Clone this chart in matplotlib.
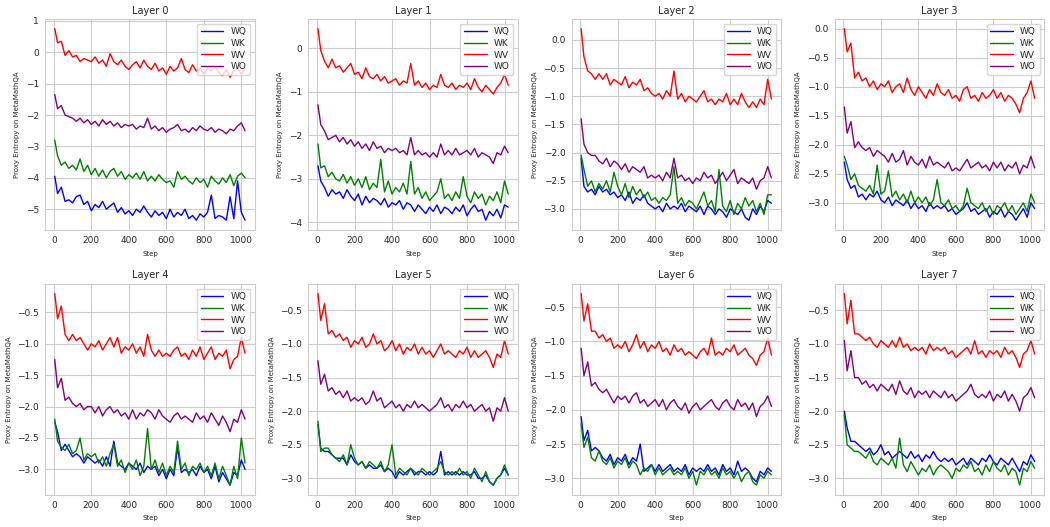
import matplotlib
matplotlib.use("Agg")
import matplotlib.pyplot as plt
import seaborn as sns

# step 5, then every 20 steps up to 1020
STEPS = [5] + list(range(20, 1021, 20))
SERIES_NAMES = ["WQ", "WK", "WV", "WO"]
COLORS = ["blue", "green", "red", "purple"]

# Layer 0
L0_WV = [0.75, 0.3, 0.35, -0.1, 0.05, -0.15,
         -0.1, -0.3, -0.2, -0.25, -0.3,
         -0.15, -0.35, -0.25, -0.45, -0.05,
         -0.3, -0.4, -0.25, -0.45, -0.55,
         -0.4, -0.3, -0.5, -0.25, -0.45,
         -0.55, -0.35, -0.6, -0.5, -0.7,
         -0.45, -0.6, -0.5, -0.2, -0.55,
         -0.65, -0.4, -0.6, -0.5, -0.7,
         -0.5, -0.6, -0.45, -0.65, -0.75,
         -0.55, -0.8, -0.6, -0.5, -0.7,
         -0.5]
L0_WO = [-1.35, -1.8, -1.7, -2.0, -2.05, -2.1,
         -2.2, -2.1, -2.25, -2.15, -2.3,
         -2.2, -2.35, -2.15, -2.3, -2.2,
         -2.35, -2.25, -2.4, -2.3, -2.35,
         -2.3, -2.45, -2.35, -2.4, -2.1,
         -2.45, -2.35, -2.5, -2.4, -2.55,
         -2.45, -2.4, -2.3, -2.5, -2.45,
         -2.55, -2.4, -2.5, -2.35, -2.45,
         -2.5, -2.4, -2.55, -2.45, -2.5,
         -2.6, -2.45, -2.5, -2.35, -2.25,
         -2.5]
L0_WK = [-2.8, -3.3, -3.6, -3.5, -3.7, -3.6,
         -3.75, -3.4, -3.8, -3.6, -3.9,
         -3.7, -3.95, -3.75, -4.0, -3.8,
         -3.7, -3.95, -3.8, -4.05, -3.9,
         -4.0, -3.85, -4.05, -3.8, -4.1,
         -3.95, -4.1, -3.9, -4.05, -4.15,
         -4.1, -4.3, -3.8, -4.05, -3.95,
         -4.1, -4.2, -4.0, -4.15, -4.05,
         -4.3, -3.95, -4.1, -4.2, -4.0,
         -4.15, -3.9, -4.25, -3.95, -3.85,
         -4.0]
L0_WQ = [-3.95, -4.5, -4.3, -4.75, -4.7, -4.8,
         -4.6, -4.55, -4.85, -4.75, -5.05,
         -4.85, -4.95, -4.75, -5.0, -4.9,
         -4.8, -5.1, -4.95, -5.15, -5.05,
         -5.2, -5.0, -5.1, -4.9, -5.1,
         -5.25, -5.05, -5.2, -5.1, -5.3,
         -5.0, -5.25, -5.1, -5.2, -5.0,
         -5.3, -5.2, -5.35, -5.15, -5.25,
         -5.1, -4.55, -5.3, -5.2, -5.25,
         -5.35, -4.6, -5.3, -4.1, -5.1,
         -5.35]

# Layer 1
L1_WV = [0.45, -0.05, -0.3, -0.45, -0.25, -0.45,
         -0.4, -0.55, -0.45, -0.35, -0.6,
         -0.55, -0.7, -0.45, -0.65, -0.7,
         -0.6, -0.75, -0.65, -0.8, -0.75,
         -0.7, -0.85, -0.75, -0.8, -0.35,
         -0.85, -0.75, -0.9, -0.8, -0.95,
         -0.85, -0.9, -0.6, -0.85, -0.9,
         -0.8, -0.95, -0.85, -0.9, -0.8,
         -0.95, -0.7, -0.9, -1.0, -0.85,
         -0.95, -1.05, -0.9, -0.8, -0.6,
         -0.85]
L1_WO = [-1.3, -1.75, -1.9, -2.1, -2.05, -2.0,
         -2.15, -2.05, -2.2, -2.1, -2.25,
         -2.15, -2.3, -2.2, -2.35, -2.15,
         -2.3, -2.25, -2.4, -2.3, -2.35,
         -2.3, -2.4, -2.35, -2.45, -2.05,
         -2.45, -2.35, -2.45, -2.4, -2.5,
         -2.4, -2.5, -2.2, -2.45, -2.35,
         -2.45, -2.3, -2.45, -2.4, -2.35,
         -2.45, -2.3, -2.5, -2.4, -2.45,
         -2.5, -2.65, -2.4, -2.45, -2.25,
         -2.4]
L1_WK = [-2.2, -2.75, -2.7, -2.95, -2.85, -3.0,
         -3.05, -2.9, -3.1, -2.95, -3.15,
         -3.0, -3.2, -2.95, -3.25, -3.1,
         -3.2, -2.55, -3.3, -3.05, -3.35,
         -3.2, -3.3, -3.1, -3.35, -2.6,
         -3.35, -3.2, -3.45, -3.3, -3.5,
         -3.4, -3.3, -3.0, -3.45, -3.35,
         -3.5, -3.3, -3.45, -2.95, -3.4,
         -3.55, -3.3, -3.45, -3.35, -3.6,
         -3.4, -3.5, -3.3, -3.55, -3.05,
         -3.35]
L1_WQ = [-2.7, -3.05, -3.2, -3.4, -3.25, -3.35,
         -3.3, -3.45, -3.25, -3.4, -3.5,
         -3.35, -3.6, -3.4, -3.55, -3.45,
         -3.5, -3.6, -3.45, -3.65, -3.55,
         -3.6, -3.5, -3.7, -3.55, -3.6,
         -3.75, -3.6, -3.7, -3.8, -3.65,
         -3.75, -3.6, -3.8, -3.65, -3.7,
         -3.8, -3.65, -3.75, -3.6, -3.85,
         -3.7, -3.6, -3.75, -3.7, -3.95,
         -3.75, -3.85, -3.7, -3.9, -3.6,
         -3.65]

# Layer 2
L2_WV = [0.2, -0.3, -0.55, -0.6, -0.7, -0.6,
         -0.7, -0.6, -0.8, -0.7, -0.75,
         -0.8, -0.65, -0.85, -0.75, -0.8,
         -0.7, -0.9, -0.85, -0.95, -1.0,
         -0.95, -1.05, -0.9, -1.0, -0.55,
         -1.05, -0.95, -1.1, -1.0, -1.05,
         -1.1, -1.0, -0.9, -1.1, -1.05,
         -1.15, -1.05, -1.1, -0.95, -1.15,
         -1.05, -1.15, -0.95, -1.1, -1.2,
         -1.1, -1.2, -1.05, -1.15, -0.7,
         -1.05]
L2_WO = [-1.4, -1.85, -2.0, -2.05, -2.05, -2.15,
         -2.2, -2.1, -2.25, -2.15, -2.2,
         -2.3, -2.2, -2.35, -2.25, -2.3,
         -2.35, -2.25, -2.45, -2.4, -2.45,
         -2.4, -2.5, -2.35, -2.45, -2.1,
         -2.45, -2.4, -2.5, -2.45, -2.55,
         -2.45, -2.5, -2.35, -2.45, -2.4,
         -2.55, -2.45, -2.35, -2.5, -2.4,
         -2.3, -2.55, -2.45, -2.5, -2.55,
         -2.45, -2.65, -2.5, -2.45, -2.25,
         -2.45]
L2_WK = [-2.05, -2.3, -2.6, -2.5, -2.7, -2.55,
         -2.65, -2.5, -2.7, -2.35, -2.6,
         -2.75, -2.55, -2.8, -2.6, -2.75,
         -2.65, -2.8, -2.7, -2.85, -2.8,
         -2.9, -2.8, -2.85, -2.75, -2.25,
         -2.9, -2.8, -2.95, -2.85, -2.9,
         -3.0, -2.85, -2.7, -2.95, -2.85,
         -3.05, -2.3, -2.95, -3.05, -2.85,
         -3.1, -2.9, -3.0, -2.8, -2.95,
         -2.85, -3.05, -2.9, -3.1, -2.75,
         -2.75]
L2_WQ = [-2.1, -2.6, -2.7, -2.65, -2.75, -2.6,
         -2.7, -2.65, -2.75, -2.7, -2.8,
         -2.75, -2.85, -2.7, -2.9, -2.8,
         -2.85, -2.75, -2.9, -2.95, -3.0,
         -2.95, -3.05, -2.9, -3.0, -2.95,
         -3.0, -2.9, -3.05, -2.95, -3.0,
         -3.05, -2.95, -3.1, -2.95, -3.0,
         -3.1, -3.0, -3.05, -3.15, -3.0,
         -3.05, -3.1, -3.0, -3.15, -3.2,
         -3.0, -3.1, -2.95, -3.05, -2.85,
         -2.9]

# Layer 3
L3_WV = [0.0, -0.4, -0.25, -0.85, -0.75, -0.9,
         -0.85, -1.0, -0.9, -1.05, -0.95,
         -1.0, -0.9, -1.1, -1.0, -0.95,
         -1.1, -0.85, -1.05, -1.15, -1.0,
         -1.1, -1.2, -1.05, -1.15, -0.95,
         -1.1, -1.15, -1.05, -1.2, -1.15,
         -1.25, -1.05, -1.0, -1.2, -1.15,
         -1.25, -1.1, -1.2, -1.15, -1.05,
         -1.2, -1.1, -1.25, -1.15, -1.2,
         -1.3, -1.45, -1.2, -1.1, -0.9,
         -1.2]
L3_WO = [-1.35, -1.8, -1.6, -2.05, -1.95, -2.05,
         -2.1, -2.05, -2.2, -2.1, -2.15,
         -2.2, -2.3, -2.15, -2.3, -2.25,
         -2.1, -2.35, -2.2, -2.3, -2.35,
         -2.25, -2.4, -2.2, -2.35, -2.3,
         -2.35, -2.4, -2.3, -2.45, -2.4,
         -2.45, -2.35, -2.25, -2.4, -2.35,
         -2.3, -2.4, -2.35, -2.45, -2.3,
         -2.4, -2.3, -2.45, -2.35, -2.4,
         -2.3, -2.5, -2.35, -2.4, -2.2,
         -2.4]
L3_WK = [-2.2, -2.35, -2.6, -2.5, -2.7, -2.75,
         -2.8, -2.7, -2.85, -2.35, -2.85,
         -2.8, -2.45, -2.9, -2.8, -2.95,
         -2.85, -3.0, -2.8, -3.0, -2.9,
         -3.0, -2.9, -3.05, -2.95, -2.6,
         -3.0, -3.05, -2.95, -3.1, -3.05,
         -3.15, -3.05, -2.75, -3.0, -3.05,
         -3.1, -3.0, -3.15, -3.05, -3.2,
         -3.05, -3.1, -3.0, -3.15, -3.05,
         -3.2, -3.1, -3.0, -3.15, -2.85,
         -3.0]
L3_WQ = [-2.3, -2.6, -2.75, -2.7, -2.9, -2.85,
         -2.95, -2.85, -2.9, -2.8, -2.95,
         -3.0, -2.9, -3.05, -2.95, -3.0,
         -3.05, -2.95, -3.1, -3.0, -3.1,
         -3.05, -3.15, -3.0, -3.1, -3.05,
         -3.1, -3.05, -3.15, -3.1, -3.2,
         -3.15, -3.1, -3.0, -3.15, -3.1,
         -3.2, -3.15, -3.1, -3.25, -3.15,
         -3.2, -3.1, -3.25, -3.15, -3.2,
         -3.3, -3.2, -3.1, -3.25, -3.0,
         -3.1]

# Layer 4
L4_WV = [-0.2, -0.6, -0.4, -0.85, -0.95, -0.85,
         -0.95, -0.9, -1.0, -1.1, -1.0,
         -1.05, -0.95, -1.1, -1.0, -0.9,
         -1.05, -0.9, -1.15, -1.05, -1.1,
         -1.0, -1.15, -1.05, -1.2, -0.85,
         -1.1, -1.2, -1.1, -1.2, -1.15,
         -1.2, -1.1, -1.05, -1.2, -1.15,
         -1.25, -1.1, -1.2, -1.05, -1.25,
         -1.15, -1.05, -1.25, -1.15, -1.2,
         -1.1, -1.4, -1.25, -1.2, -0.9,
         -1.15]
L4_WO = [-1.25, -1.7, -1.55, -1.9, -1.85, -1.95,
         -2.0, -1.95, -2.05, -2.0, -2.0,
         -2.1, -2.0, -2.15, -2.05, -2.0,
         -2.1, -2.05, -2.15, -2.1, -2.2,
         -2.05, -2.2, -2.1, -2.15, -2.05,
         -2.1, -2.2, -2.05, -2.15, -2.2,
         -2.25, -2.15, -2.1, -2.2, -2.15,
         -2.2, -2.25, -2.1, -2.2, -2.15,
         -2.25, -2.1, -2.2, -2.3, -2.15,
         -2.25, -2.4, -2.2, -2.25, -2.05,
         -2.2]
L4_WK = [-2.2, -2.55, -2.65, -2.7, -2.6, -2.75,
         -2.7, -2.5, -2.85, -2.75, -2.8,
         -2.75, -2.9, -2.8, -2.95, -2.75,
         -2.6, -2.95, -2.85, -3.05, -2.9,
         -3.0, -2.85, -3.1, -2.95, -2.35,
         -3.0, -2.85, -3.05, -2.9, -3.1,
         -2.95, -3.05, -2.55, -3.0, -2.9,
         -3.1, -2.95, -3.0, -2.9, -3.05,
         -2.95, -3.1, -2.9, -3.15, -2.95,
         -3.1, -3.25, -2.95, -3.15, -2.5,
         -2.9]
L4_WQ = [-2.25, -2.4, -2.7, -2.6, -2.7, -2.8,
         -2.75, -2.8, -2.9, -2.8, -2.85,
         -2.9, -2.85, -2.95, -2.8, -2.95,
         -2.55, -2.9, -2.95, -3.0, -2.9,
         -2.95, -3.0, -2.9, -3.05, -2.95,
         -3.0, -2.95, -3.1, -3.0, -3.15,
         -3.0, -3.1, -2.65, -3.05, -3.0,
         -3.05, -3.0, -3.1, -2.95, -3.05,
         -3.0, -3.15, -2.95, -3.2, -3.05,
         -3.15, -3.25, -3.05, -3.1, -2.85,
         -3.0]

# Layer 5
L5_WV = [-0.25, -0.65, -0.4, -0.85, -0.8, -0.9,
         -0.85, -0.95, -0.9, -1.05, -0.95,
         -1.0, -0.9, -1.05, -1.0, -0.85,
         -1.0, -0.95, -1.1, -1.05, -0.95,
         -1.1, -1.0, -1.15, -1.05, -1.1,
         -1.0, -1.15, -1.05, -1.15, -1.1,
         -1.2, -1.1, -1.0, -1.15, -1.1,
         -1.15, -1.2, -1.1, -1.15, -1.05,
         -1.2, -1.1, -1.2, -1.15, -1.1,
         -1.2, -1.35, -1.15, -1.2, -0.95,
         -1.15]
L5_WO = [-1.25, -1.6, -1.45, -1.7, -1.65, -1.75,
         -1.7, -1.8, -1.7, -1.85, -1.8,
         -1.85, -1.8, -1.9, -1.85, -1.7,
         -1.85, -1.8, -1.95, -1.9, -1.85,
         -1.95, -1.9, -2.0, -1.9, -1.95,
         -1.85, -1.95, -1.9, -1.95, -2.0,
         -1.95, -1.9, -1.8, -1.95, -1.9,
         -2.0, -1.9, -1.95, -1.85, -1.95,
         -1.9, -2.0, -1.95, -1.9, -2.0,
         -1.95, -2.15, -1.95, -2.0, -1.8,
         -2.0]
L5_WK = [-2.15, -2.6, -2.55, -2.55, -2.65, -2.7,
         -2.75, -2.65, -2.8, -2.5, -2.7,
         -2.8, -2.75, -2.85, -2.75, -2.8,
         -2.85, -2.75, -2.9, -2.8, -2.5,
         -2.95, -2.85, -2.9, -2.95, -2.85,
         -2.9, -2.95, -2.85, -2.9, -2.95,
         -2.9, -2.85, -2.75, -2.9, -2.95,
         -2.9, -2.95, -2.85, -2.95, -2.9,
         -3.0, -2.85, -2.95, -3.05, -2.9,
         -3.05, -3.1, -3.0, -2.95, -2.8,
         -2.95]
L5_WQ = [-2.2, -2.55, -2.6, -2.6, -2.65, -2.7,
         -2.7, -2.7, -2.8, -2.65, -2.75,
         -2.8, -2.75, -2.85, -2.8, -2.85,
         -2.85, -2.8, -2.9, -2.85, -2.9,
         -3.0, -2.9, -2.95, -2.9, -2.85,
         -2.95, -2.9, -2.9, -2.95, -2.9,
         -2.95, -2.9, -2.6, -2.95, -2.9,
         -2.95, -2.9, -2.95, -2.9, -2.95,
         -2.95, -2.9, -3.0, -3.0, -2.95,
         -3.05, -3.1, -3.0, -2.95, -2.85,
         -2.95]

# Layer 6
L6_WV = [-0.3, -0.7, -0.45, -0.85, -0.85, -0.95,
         -0.9, -1.0, -0.95, -1.1, -1.05,
         -1.1, -1.0, -1.15, -1.05, -0.9,
         -1.1, -1.0, -1.15, -1.05, -1.1,
         -1.0, -1.15, -1.1, -1.2, -1.05,
         -1.15, -1.1, -1.2, -1.15, -1.2,
         -1.25, -1.15, -1.1, -1.2, -0.95,
         -1.2, -1.15, -1.2, -1.1, -1.15,
         -1.05, -1.2, -1.15, -1.1, -1.2,
         -1.25, -1.35, -1.2, -1.15, -0.95,
         -1.2]
L6_WO = [-1.1, -1.5, -1.3, -1.65, -1.6, -1.7,
         -1.75, -1.7, -1.8, -1.9, -1.8,
         -1.85, -1.8, -1.9, -1.8, -1.75,
         -1.9, -1.85, -1.95, -1.9, -1.85,
         -1.95, -1.85, -2.0, -1.9, -1.85,
         -1.95, -2.0, -1.9, -2.05, -1.95,
         -1.9, -2.0, -1.95, -1.9, -1.85,
         -1.95, -2.0, -1.9, -1.85, -1.95,
         -2.0, -1.85, -1.95, -1.9, -2.0,
         -1.9, -2.1, -1.95, -1.9, -1.8,
         -1.95]
L6_WK = [-2.2, -2.55, -2.4, -2.7, -2.75, -2.6,
         -2.75, -2.8, -2.7, -2.85, -2.75,
         -2.8, -2.7, -2.85, -2.75, -2.8,
         -2.95, -2.85, -2.9, -2.8, -2.95,
         -2.85, -2.95, -2.9, -2.85, -2.95,
         -2.9, -2.95, -2.85, -3.0, -2.9,
         -3.1, -2.9, -2.95, -2.85, -2.95,
         -2.9, -3.0, -2.85, -2.95, -2.9,
         -3.0, -2.9, -3.05, -2.95, -2.9,
         -3.05, -3.1, -2.95, -3.0, -2.9,
         -2.95]
L6_WQ = [-2.1, -2.45, -2.3, -2.6, -2.55, -2.6,
         -2.7, -2.75, -2.65, -2.8, -2.7,
         -2.75, -2.65, -2.8, -2.7, -2.75,
         -2.5, -2.9, -2.85, -2.8, -2.9,
         -2.8, -2.9, -2.85, -2.8, -2.9,
         -2.85, -2.9, -2.8, -2.95, -2.85,
         -2.9, -2.85, -2.9, -2.8, -2.9,
         -2.85, -2.95, -2.8, -2.9, -2.85,
         -2.95, -2.75, -2.9, -2.85, -2.9,
         -3.0, -3.05, -2.9, -2.95, -2.85,
         -2.9]

# Layer 7
L7_WV = [-0.25, -0.7, -0.35, -0.85, -0.85, -0.9,
         -0.95, -0.9, -1.0, -1.05, -0.95,
         -1.0, -1.05, -0.95, -1.05, -0.9,
         -1.05, -1.0, -1.1, -1.05, -1.1,
         -1.05, -1.15, -1.0, -1.1, -1.05,
         -1.1, -1.05, -1.15, -1.1, -1.2,
         -1.15, -1.1, -1.05, -1.15, -0.95,
         -1.15, -1.1, -1.2, -1.1, -1.15,
         -1.1, -1.2, -1.05, -1.15, -1.1,
         -1.2, -1.35, -1.15, -1.1, -0.95,
         -1.15]
L7_WO = [-0.95, -1.4, -1.1, -1.5, -1.5, -1.6,
         -1.55, -1.65, -1.6, -1.7, -1.6,
         -1.65, -1.7, -1.6, -1.75, -1.55,
         -1.7, -1.75, -1.65, -1.8, -1.7,
         -1.75, -1.7, -1.8, -1.7, -1.75,
         -1.8, -1.7, -1.8, -1.75, -1.85,
         -1.8, -1.75, -1.7, -1.6, -1.75,
         -1.8, -1.75, -1.8, -1.7, -1.85,
         -1.75, -1.8, -1.7, -1.85, -1.75,
         -1.85, -2.0, -1.8, -1.75, -1.65,
         -1.8]
L7_WK = [-2.05, -2.5, -2.55, -2.6, -2.6, -2.65,
         -2.7, -2.6, -2.75, -2.8, -2.7,
         -2.75, -2.8, -2.7, -2.85, -2.4,
         -2.8, -2.9, -2.75, -2.85, -2.95,
         -2.85, -2.9, -2.8, -2.95, -2.85,
         -2.8, -2.85, -2.9, -3.0, -2.85,
         -2.9, -2.8, -2.85, -2.75, -2.9,
         -2.85, -2.95, -2.8, -2.9, -2.75,
         -2.85, -2.9, -2.8, -2.95, -2.85,
         -2.9, -3.1, -2.85, -2.9, -2.75,
         -2.85]
L7_WQ = [-2.0, -2.25, -2.45, -2.45, -2.5, -2.55,
         -2.6, -2.55, -2.65, -2.6, -2.5,
         -2.65, -2.6, -2.7, -2.65, -2.6,
         -2.65, -2.7, -2.6, -2.7, -2.65,
         -2.75, -2.65, -2.7, -2.6, -2.7,
         -2.75, -2.7, -2.75, -2.7, -2.8,
         -2.75, -2.7, -2.8, -2.7, -2.75,
         -2.8, -2.7, -2.75, -2.65, -2.75,
         -2.8, -2.7, -2.75, -2.8, -2.7,
         -2.8, -2.9, -2.75, -2.8, -2.65,
         -2.75]

LAYERS = [
    (L0_WQ, L0_WK, L0_WV, L0_WO),
    (L1_WQ, L1_WK, L1_WV, L1_WO),
    (L2_WQ, L2_WK, L2_WV, L2_WO),
    (L3_WQ, L3_WK, L3_WV, L3_WO),
    (L4_WQ, L4_WK, L4_WV, L4_WO),
    (L5_WQ, L5_WK, L5_WV, L5_WO),
    (L6_WQ, L6_WK, L6_WV, L6_WO),
    (L7_WQ, L7_WK, L7_WV, L7_WO),
]


def main():
    sns.set_style("whitegrid")
    fig, axes = plt.subplots(2, 4, figsize=(10.5, 5.27), dpi=100)

    for i, ax in enumerate(axes.flat):
        for name, color, vals in zip(SERIES_NAMES, COLORS, LAYERS[i]):
            ax.plot(STEPS[:len(vals)], vals, color=color, linewidth=1.0, label=name)
        ax.set_title(f"Layer {i}", fontsize=7, pad=4)
        ax.set_xlabel("Step", fontsize=5)
        ax.set_ylabel("Proxy Entropy on MetaMathQA", fontsize=5)
        ax.tick_params(labelsize=6.5, pad=1)
        ax.legend(loc="upper right", fontsize=6.5, handlelength=2.5,
                  borderpad=0.4, labelspacing=0.3)

    plt.tight_layout(pad=0.4, w_pad=1.0, h_pad=1.0)
    plt.savefig("out.png")


if __name__ == "__main__":
    main()
